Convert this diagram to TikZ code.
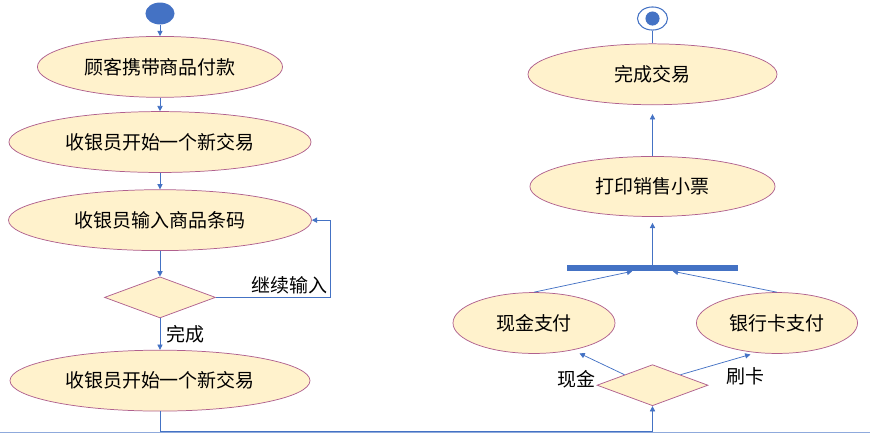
\documentclass[tikz,border=0pt]{standalone}
\usepackage{fontspec}
\usepackage{xcolor}
\usepackage{tikz}
\usetikzlibrary{positioning, arrows.meta, shapes.geometric}
\newfontfamily\cjk{Noto Sans CJK SC}
\definecolor{flowblue}{HTML}{4472C4}
\definecolor{fillyellow}{HTML}{FFF2CC}
\definecolor{edgepink}{HTML}{B0608E}
\definecolor{rulegray}{HTML}{8FAADC}

\begin{document}
\begin{tikzpicture}[
    activity/.style={
        ellipse,
        draw=edgepink,
        line width=0.7pt,
        fill=fillyellow,
        font=\cjk\fontsize{18}{20}\selectfont,
        inner sep=0pt,
        minimum height=2.03cm
    },
    choice/.style={diamond, draw=edgepink, line width=0.7pt, fill=fillyellow,
        inner sep=0pt, minimum width=3.7cm, minimum height=1.37cm},
    arrow/.style={-{Triangle[length=5pt,width=5pt]}, flowblue, line width=0.7pt},
    lbl/.style={font=\cjk\fontsize{18}{20}\selectfont, text=black, inner sep=1pt}
]
\useasboundingbox (0,0) rectangle (29,-14.433);

% left column
\node[ellipse, fill=flowblue, minimum width=0.97cm, minimum height=0.73cm, inner sep=0pt] (start) at (5.333,-0.45) {};
\node[activity, minimum width=8.17cm] (carry) [below=0.38cm of start] {顾客携带商品付款};
\node[activity, minimum width=10.07cm] (newtx) [below=0.45cm of carry] {收银员开始一个新交易};
\node[activity, minimum width=10.1cm] (scan) [below=0.55cm of newtx] {收银员输入商品条码};
\node[choice] (check) [below=0.85cm of scan] {};
\node[activity, minimum width=10.0cm] (newtx2) [below=1.05cm of check] {收银员开始一个新交易};

% right column
\node[ellipse, draw=flowblue, line width=1pt, fill=white, minimum width=1.0cm, minimum height=0.77cm, inner sep=0pt] (stop) at (21.75,-0.617) {};
\node[ellipse, fill=flowblue, minimum width=0.47cm, minimum height=0.47cm, inner sep=0pt] (stopdot) at (stop) {};
\node[activity, minimum width=8.3cm] (done) [below=0.43cm of stop] {完成交易};
\node[activity, minimum width=8.17cm, minimum height=2.0cm] (receipt) [below=1.7cm of done] {打印销售小票};
\node[fill=flowblue, minimum width=5.7cm, minimum height=0.2cm, inner sep=0pt] (bar) [below=1.6cm of receipt] {};
\node[choice] (pay) [below=3.1cm of bar] {};
\node[activity, minimum width=5.4cm] (cash) at (17.8,-10.767) {现金支付};
\node[activity, minimum width=5.37cm] (card) at (25.9,-10.767) {银行卡支付};
\node[lbl, left=0pt of pay.west, yshift=0.2cm] (cashlbl) {现金};
\node[lbl, right=0.55cm of pay.east, yshift=0.3cm] (cardlbl) {刷卡};

\draw[arrow] (start) -- (carry);
\draw[arrow] (carry) -- (newtx);
\draw[arrow] (newtx) -- (scan);
\draw[arrow] (scan) -- (check);
\draw[arrow] (check) -- node[lbl, right=5pt] {完成} (newtx2);
\draw[arrow] (check.east) -- ++(3.83,0) node[lbl, anchor=south east, inner sep=3pt] {继续输入} |- (scan.east);
\draw[arrow] (newtx2.south) -- ++(0,-0.66) -| (pay.south);

\draw[arrow, shorten >=0.25cm] (pay.north west) -- (cash.-35);
\draw[arrow, shorten >=0.2cm] (pay.north east) -- (card.235);
\draw[arrow] (cash.north) -- (bar.189);
\draw[arrow] (card.north) -- (bar.351);
\draw[arrow, shorten >=0.2cm] (bar) -- (receipt);
\draw[arrow, shorten >=0.3cm] (receipt) -- (done);
\draw[flowblue, line width=0.7pt] (done) -- (stop);

% page edge
\draw[rulegray, line width=0.8pt] (0,-14.4) -- (29,-14.4);

\end{tikzpicture}
\end{document}
